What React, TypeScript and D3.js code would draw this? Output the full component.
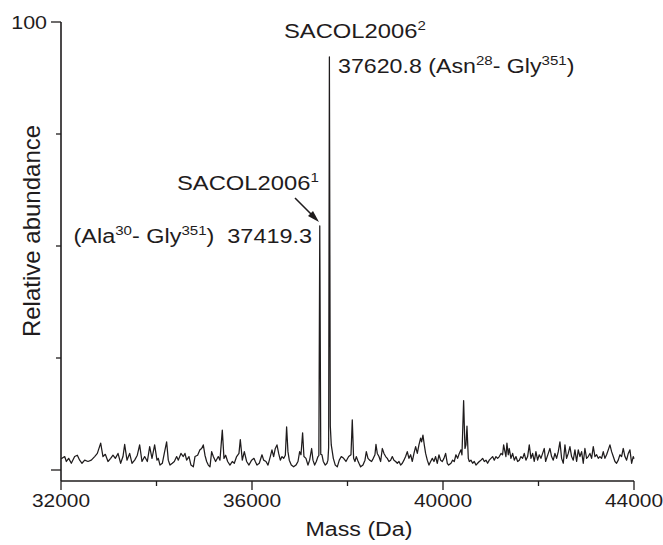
import React, { useEffect, useRef } from 'react';
import * as d3 from 'd3';

const massTicks = [32000, 34000, 36000, 38000, 40000, 42000, 44000];
const massLabels = [32000, 36000, 40000, 44000];
const abundanceTicks = [0, 25, 50, 75, 100];

// [mass (Da), relative abundance (%)]
const spectrum: [number, number][] = [
  [32000, 2.5], [32021, 2.6], [32077, 3.0], [32112, 1.9], [32161, 2.6], [32216, 1.5], [32286, 3.0],
  [32342, 3.3], [32391, 2.2], [32440, 1.5], [32496, 2.2], [32565, 1.9], [32635, 2.2], [32705, 3.0],
  [32761, 3.7], [32831, 6.0], [32879, 3.0], [32928, 3.5], [32984, 1.9], [33040, 2.6], [33089, 3.3],
  [33138, 2.6], [33194, 3.7], [33249, 1.5], [33298, 3.0], [33333, 5.7], [33382, 2.2], [33438, 3.7],
  [33487, 1.5], [33543, 2.2], [33598, 3.3], [33647, 5.6], [33696, 1.9], [33752, 3.0], [33808, 1.9],
  [33857, 5.2], [33906, 2.6], [33961, 5.6], [34010, 2.2], [34038, 2.6], [34073, 1.1], [34122, 1.5],
  [34163, 3.7], [34212, 6.3], [34247, 2.2], [34282, 1.1], [34331, 1.5], [34373, 1.9], [34422, 3.0],
  [34457, 2.2], [34512, 3.7], [34561, 3.0], [34596, 3.7], [34631, 2.2], [34680, 3.0], [34722, 1.1],
  [34771, 0.7], [34806, 3.0], [34861, 3.3], [34910, 4.5], [34945, 4.8], [34980, 5.6], [35015, 3.3],
  [35050, 1.9], [35085, 1.1], [35120, 0.7], [35155, 4.1], [35190, 3.0], [35238, 1.9], [35294, 3.0],
  [35329, 2.2], [35378, 8.9], [35413, 2.6], [35448, 3.3], [35490, 1.9], [35539, 1.1], [35587, 1.9],
  [35629, 1.5], [35678, 3.0], [35727, 3.7], [35755, 6.8], [35797, 2.2], [35839, 4.1], [35888, 1.9],
  [35937, 1.1], [35992, 2.2], [36041, 2.6], [36069, 1.9], [36104, 1.1], [36153, 1.5], [36209, 3.4],
  [36244, 2.2], [36293, 1.9], [36335, 1.1], [36383, 3.0], [36418, 4.5], [36453, 3.0], [36488, 4.8],
  [36523, 5.6], [36558, 3.7], [36593, 2.2], [36628, 3.0], [36663, 2.6], [36698, 3.3], [36725, 9.6],
  [36753, 4.1], [36781, 2.2], [36823, 1.1], [36872, 0.7], [36921, 1.1], [36963, 1.9], [36998, 4.1],
  [37026, 3.4], [37060, 8.3], [37088, 3.0], [37130, 2.6], [37172, 1.1], [37207, 2.2], [37249, 4.8],
  [37277, 2.2], [37312, 1.1], [37347, 1.9], [37382, 3.0], [37400, 3.2], [37419.3, 54.5], [37440, 3.5],
  [37465, 3.4], [37493, 1.9], [37535, 1.1], [37570, 1.5], [37590, 2.2], [37605, 5.0], [37620.8, 92.2],
  [37640, 9.8], [37660, 5.6], [37703, 2.6], [37744, 1.1], [37786, 0.7], [37828, 2.2], [37870, 3.0],
  [37919, 2.6], [37968, 1.9], [38024, 3.0], [38073, 3.4], [38100, 11.2], [38128, 2.6], [38156, 1.9],
  [38184, 3.0], [38212, 2.2], [38240, 1.5], [38275, 0.7], [38324, 1.1], [38366, 2.2], [38394, 4.1],
  [38429, 2.6], [38463, 2.2], [38505, 1.9], [38540, 2.6], [38575, 3.4], [38596, 5.7], [38624, 3.7],
  [38659, 3.0], [38694, 1.9], [38729, 4.8], [38764, 3.7], [38799, 3.0], [38833, 2.6], [38868, 1.9],
  [38903, 2.2], [38938, 3.0], [38973, 2.2], [39008, 1.9], [39043, 1.5], [39078, 1.9], [39113, 1.1],
  [39148, 1.5], [39182, 2.2], [39217, 3.0], [39252, 4.1], [39287, 2.6], [39322, 3.4], [39357, 1.9],
  [39392, 3.7], [39427, 5.2], [39462, 3.7], [39496, 5.6], [39531, 7.1], [39552, 6.3], [39580, 7.8],
  [39608, 5.6], [39636, 3.7], [39671, 2.2], [39706, 1.1], [39741, 1.9], [39776, 2.6], [39811, 1.9],
  [39845, 3.0], [39880, 1.5], [39915, 3.4], [39950, 2.2], [39985, 1.9], [40020, 2.6], [40055, 3.7],
  [40090, 1.5], [40118, 1.1], [40167, 1.5], [40202, 2.2], [40236, 1.9], [40271, 3.4], [40306, 2.6],
  [40341, 3.7], [40376, 4.5], [40397, 3.4], [40432, 15.5], [40460, 4.8], [40481, 5.6], [40502, 9.8],
  [40530, 2.6], [40551, 1.9], [40585, 2.2], [40620, 1.5], [40655, 1.9], [40690, 1.1], [40725, 1.5],
  [40760, 1.9], [40795, 2.2], [40830, 2.6], [40865, 1.9], [40900, 2.2], [40934, 1.5], [40969, 2.2],
  [41004, 2.6], [41039, 3.0], [41074, 2.2], [41109, 3.0], [41144, 2.6], [41179, 3.0], [41214, 3.7],
  [41248, 3.4], [41270, 5.6], [41297, 4.1], [41318, 3.0], [41339, 6.0], [41367, 3.4], [41388, 4.8],
  [41423, 2.6], [41458, 3.7], [41493, 2.2], [41528, 3.0], [41563, 1.9], [41598, 2.2], [41632, 3.0],
  [41667, 2.6], [41702, 3.7], [41737, 2.2], [41772, 3.0], [41807, 5.6], [41842, 2.6], [41877, 3.7],
  [41911, 1.9], [41946, 4.1], [41981, 2.2], [42016, 3.4], [42051, 2.6], [42086, 3.7], [42121, 4.8],
  [42149, 1.9], [42170, 2.6], [42205, 3.7], [42239, 4.8], [42274, 3.0], [42309, 2.2], [42344, 3.7],
  [42379, 2.6], [42414, 4.1], [42449, 6.3], [42484, 2.6], [42519, 1.5], [42554, 5.6], [42588, 2.6],
  [42623, 3.7], [42658, 5.2], [42693, 3.0], [42728, 2.2], [42763, 4.5], [42798, 1.9], [42833, 4.5],
  [42868, 3.0], [42903, 4.1], [42937, 1.5], [42972, 4.8], [43007, 2.6], [43042, 3.0], [43077, 3.7],
  [43112, 2.6], [43147, 5.2], [43182, 3.0], [43217, 3.4], [43252, 2.6], [43286, 3.0], [43321, 2.6],
  [43356, 4.1], [43391, 2.6], [43426, 3.4], [43461, 4.5], [43496, 5.6], [43531, 4.1], [43566, 3.0],
  [43601, 1.9], [43635, 1.5], [43670, 2.2], [43705, 3.4], [43740, 3.0], [43775, 4.8], [43810, 3.0],
  [43845, 2.2], [43880, 3.7], [43915, 4.5], [43950, 1.5], [43984, 3.0], [44000, 2.5],
];

// annotation pieces: [text, superscript?]
const label2Title: [string, boolean][] = [['SACOL2006', false], ['2', true]];
const label2Detail: [string, boolean][] = [['37620.8 (Asn', false], ['28', true], ['- Gly', false], ['351', true], [')', false]];
const label1Title: [string, boolean][] = [['SACOL2006', false], ['1', true]];
const label1Detail: [string, boolean][] = [['(Ala', false], ['30', true], ['- Gly', false], ['351', true], [')  37419.3', false]];

const App = () => {
  const ref = useRef<SVGSVGElement>(null);

  useEffect(() => {
    const svg = d3.select(ref.current);
    svg.selectAll('*').remove();

    const ink = '#1f1c1d';
    const font = '"Liberation Sans", Arial, Helvetica, sans-serif';
    const stretch = 1.16;
    const axisY = 481;

    const x = d3.scaleLinear().domain([32000, 44000]).range([61, 634]);
    const y = d3.scaleLinear().domain([0, 100]).range([470, 22]);

    const line = d3.line<[number, number]>()
      .x(d => x(d[0]))
      .y(d => y(d[1]));

    svg.append('path')
      .datum(spectrum)
      .attr('d', line)
      .attr('fill', 'none')
      .attr('stroke', ink)
      .attr('stroke-width', 1.25)
      .attr('stroke-linejoin', 'round');

    // axes
    svg.append('line')
      .attr('x1', x(32000)).attr('x2', x(32000))
      .attr('y1', y(100)).attr('y2', axisY)
      .attr('stroke', ink).attr('stroke-width', 1.6);
    svg.append('line')
      .attr('x1', x(32000)).attr('x2', x(44000))
      .attr('y1', axisY).attr('y2', axisY)
      .attr('stroke', ink).attr('stroke-width', 1.6);

    svg.append('g')
      .selectAll('line')
      .data(abundanceTicks)
      .join('line')
        .attr('x1', d => x(32000) - (d === 0 || d === 100 ? 10 : 5))
        .attr('x2', x(32000))
        .attr('y1', d => y(d)).attr('y2', d => y(d))
        .attr('stroke', ink).attr('stroke-width', 1.3);

    svg.append('g')
      .selectAll('line')
      .data(massTicks)
      .join('line')
        .attr('x1', d => x(d)).attr('x2', d => x(d))
        .attr('y1', axisY)
        .attr('y2', d => axisY + (massLabels.includes(d) ? 9 : 5))
        .attr('stroke', ink).attr('stroke-width', 1.3);

    const addText = (px: number, py: number, parts: [string, boolean][], anchor: string, size: number, supSize: number, rise: number) => {
      const g = svg.append('g').attr('transform', `translate(${px},${py}) scale(${stretch},1)`);
      const t = g.append('text')
        .attr('text-anchor', anchor)
        .attr('font-family', font)
        .attr('font-size', size)
        .attr('fill', ink)
        .attr('xml:space', 'preserve')
        .style('white-space', 'pre');
      let raised = false;
      parts.forEach(([s, sup]) => {
        const ts = t.append('tspan').text(s);
        if (sup && !raised) { ts.attr('dy', -rise).attr('font-size', supSize); raised = true; }
        else if (sup) ts.attr('font-size', supSize);
        else if (raised) { ts.attr('dy', rise); raised = false; }
      });
    };

    // tick labels
    massLabels.forEach(m => addText(x(m), 507, [[String(m), false]], 'middle', 18, 12, 0));
    addText(47, 29, [['100', false]], 'end', 18.5, 12, 0);

    // axis titles
    addText(359, 536, [['Mass (Da)', false]], 'middle', 20, 12, 0);
    svg.append('text')
      .attr('transform', `translate(40,231) rotate(-90)`)
      .attr('text-anchor', 'middle')
      .attr('font-family', font)
      .attr('font-size', 24)
      .attr('fill', ink)
      .text('Relative abundance');

    // annotations
    addText(284, 38, label2Title, 'start', 20.5, 13, 8);
    addText(338, 73, label2Detail, 'start', 20, 13, 8);
    addText(177, 190, label1Title, 'start', 20.5, 13, 8);
    addText(312, 243, label1Detail, 'end', 20.2, 13, 8);

    // arrow to the 37419.3 peak
    svg.append('line')
      .attr('x1', 295).attr('y1', 198)
      .attr('x2', 312).attr('y2', 215)
      .attr('stroke', ink).attr('stroke-width', 1.6);
    svg.append('path')
      .attr('d', 'M319,222 L308,216 L313,211 Z')
      .attr('fill', ink);
  }, []);

  return (
    <svg
      ref={ref}
      width={663}
      height={545}
      style={{ position: 'absolute', left: 0, top: 0, background: '#fff' }}
    ></svg>
  );
};

export default App;
